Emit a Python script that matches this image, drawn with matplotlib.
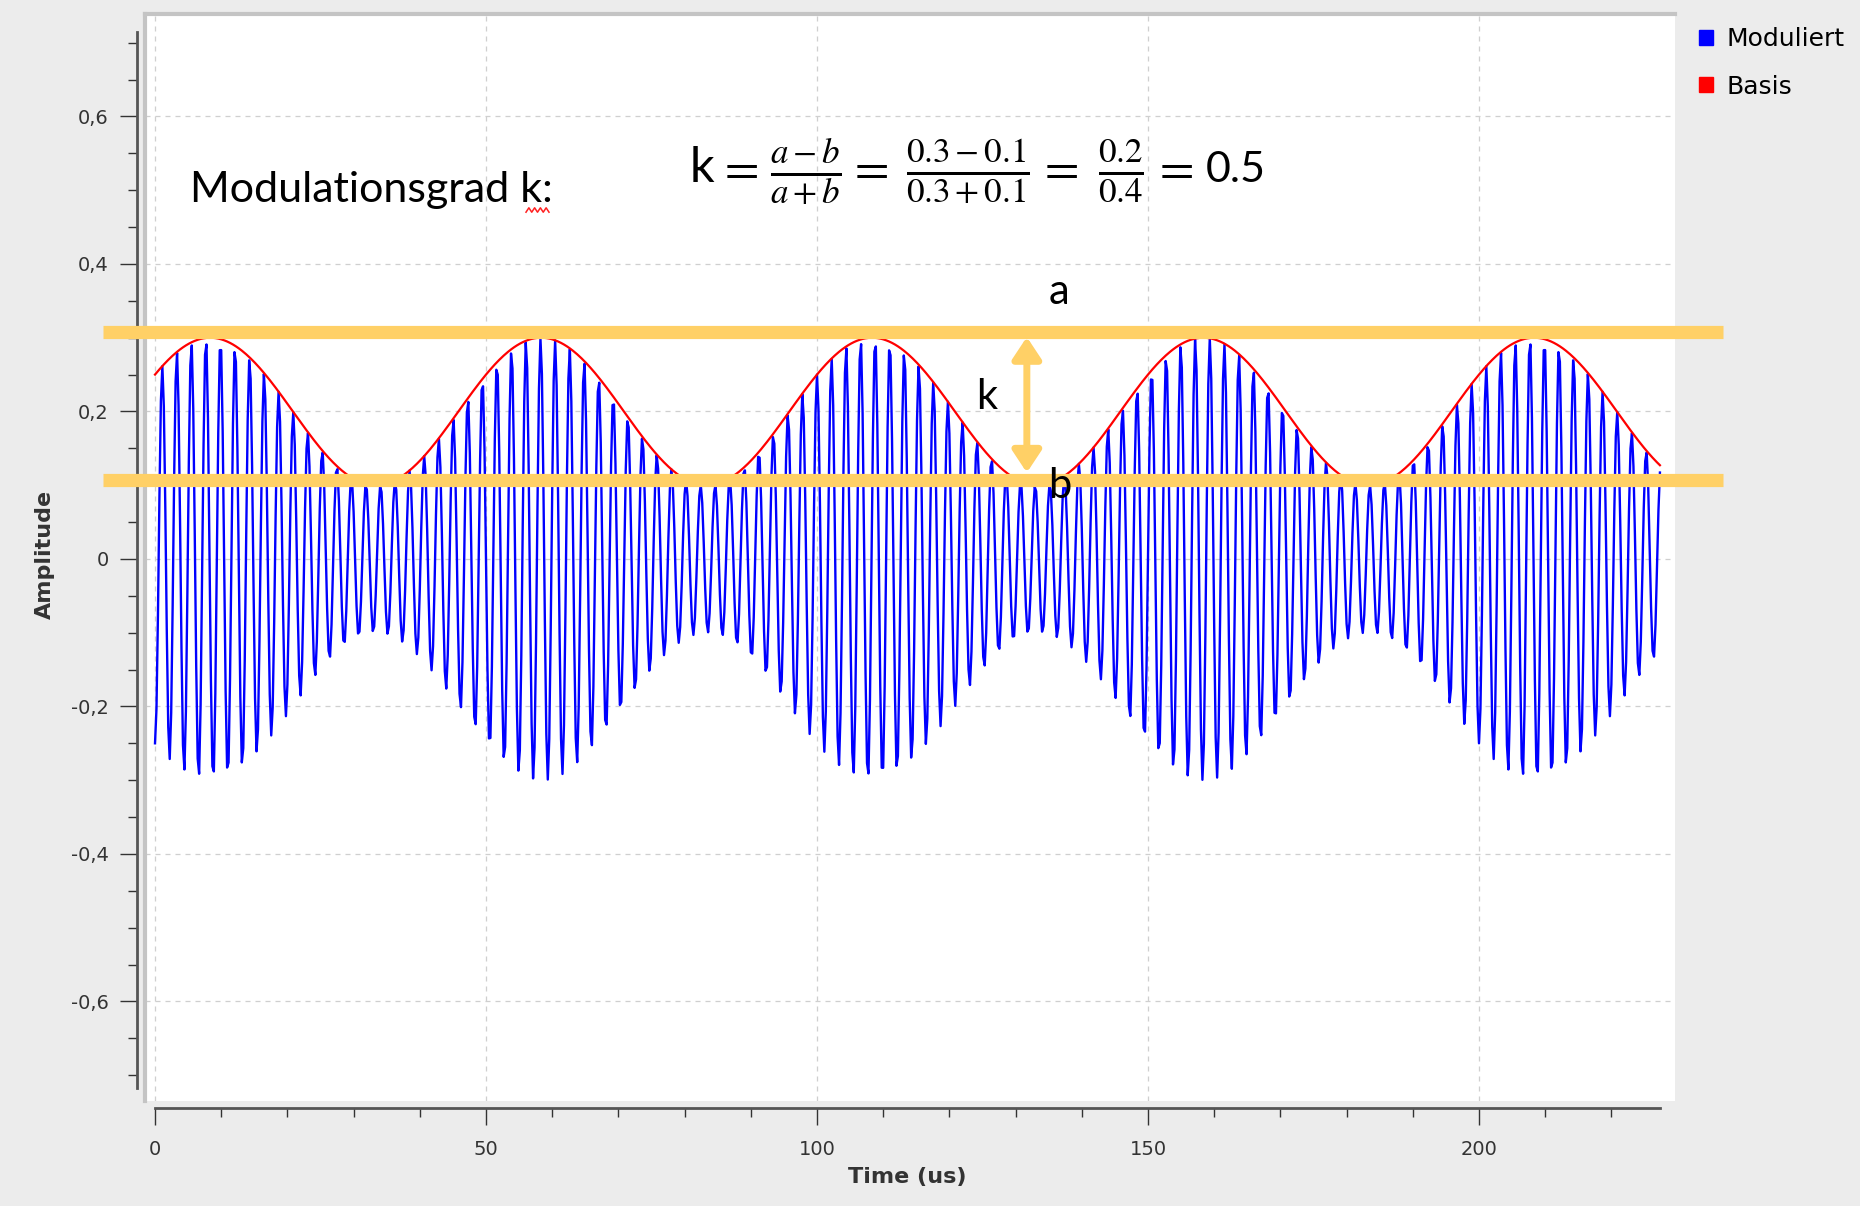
import numpy as np
import matplotlib.pyplot as plt
from matplotlib.patches import Patch
from matplotlib.lines import Line2D
from matplotlib.ticker import MultipleLocator, FuncFormatter

# signal settings
samp_rate = 4.5e6        # 1024 samples cover ~227 us
n_samples = 1024
carrier_freq = 455e3     # ~2.2 us per carrier cycle
mod_freq = 20e3          # envelope repeats every 50 us
env_offset = 0.2         # middle of envelope
env_depth = 0.1          # envelope swing
env_phase = -np.pi / 3   # envelope is 0.25 at t=0 and rising

a_level = 0.3
b_level = 0.1

t = np.arange(n_samples) / samp_rate
basis = env_offset + env_depth * np.cos(2 * np.pi * mod_freq * t + env_phase)
moduliert = -basis * np.cos(2 * np.pi * carrier_freq * t)
t_us = t * 1e6

orange = '#ffd066'
bg = '#ececec'
W, H = 1860.0, 1206.0

plt.rcParams['mathtext.fontset'] = 'stix'

fig = plt.figure(figsize=(18.6, 12.06), dpi=100, facecolor=bg)
ax = fig.add_axes([0.078, 0.0871, 0.8225, 0.9013])
ax.set_facecolor('white')

ax.plot(t_us, moduliert, color='#0000ff', lw=1.7, zorder=3)
ax.plot(t_us, basis, color='#ff0000', lw=1.6, zorder=4)

ax.set_xlim(-1.5, 229.6)
ax.set_ylim(-0.735, 0.739)

# axes outside the canvas, qwt style
for s in ['top', 'right']:
    ax.spines[s].set_visible(False)
ax.spines['left'].set_position(('outward', 6))
ax.spines['bottom'].set_position(('outward', 5))
ax.spines['left'].set_bounds(-0.718, 0.715)
ax.spines['bottom'].set_bounds(0, t_us[-1])
for s in ['left', 'bottom']:
    ax.spines[s].set_color('#555555')
    ax.spines[s].set_linewidth(2)

ax.xaxis.set_major_locator(MultipleLocator(50))
ax.xaxis.set_minor_locator(MultipleLocator(10))
ax.yaxis.set_major_locator(MultipleLocator(0.2))
ax.yaxis.set_minor_locator(MultipleLocator(0.05))
ax.yaxis.set_major_formatter(FuncFormatter(lambda v, p: '0' if abs(v) < 1e-9 else ('%.1f' % v).replace('.', ',')))
ax.tick_params(which='major', length=12, width=1, color='#333333', labelsize=14, labelcolor='#333333')
ax.tick_params(which='minor', length=6.5, width=1, color='#333333')
ax.tick_params(axis='y', pad=8)
ax.tick_params(axis='x', pad=11)
ax.grid(True, which='major', color='#cfcfcf', ls=(0, (4, 4)), lw=0.9)
ax.set_axisbelow(True)

# sunken canvas edge
ax.plot([0, 0], [0, 1], transform=ax.transAxes, color='#c4c4c4', lw=3, clip_on=False)
ax.plot([0, 1], [1, 1], transform=ax.transAxes, color='#c4c4c4', lw=3, clip_on=False)

fig.text(45 / W, 1 - 554 / H, 'Amplitude', rotation=90, ha='center', va='center',
         fontsize=16, fontweight='bold', color='#333333')
fig.text(907 / W, 1 - 1177 / H, 'Time (us)', ha='center', va='center',
         fontsize=16, fontweight='bold', color='#333333')

# a / b levels and arrow
ax.plot([-7.9, 236.9], [0.308, 0.308], color=orange, lw=9.5, clip_on=False, zorder=6, solid_capstyle='butt')
ax.plot([-7.9, 236.9], [0.107, 0.107], color=orange, lw=9.5, clip_on=False, zorder=6, solid_capstyle='butt')
arrow_t = 131.7
ax.annotate('', xy=(arrow_t, 0.117), xytext=(arrow_t, 0.301),
            arrowprops=dict(arrowstyle='<|-|>,head_width=0.43,head_length=0.65', color=orange,
                            lw=5, shrinkA=0, shrinkB=0, mutation_scale=20), zorder=7)

txt_font = ['Lato', 'DejaVu Sans']
ax.text(136.6, 0.362, 'a', fontsize=30, family=txt_font, ha='center', va='center', zorder=8)
ax.text(125.7, 0.220, 'k', fontsize=30, family=txt_font, ha='center', va='center', zorder=8)
ax.text(136.7, 0.099, 'b', fontsize=30, family=txt_font, ha='center', va='center', zorder=8)

fig.text(190 / W, 1 - 190 / H, 'Modulationsgrad k:', fontsize=31, family=txt_font,
         ha='left', va='center')
# spell-check squiggle under the k
sq_x = np.linspace(526, 549, 9)
sq_y = 210 + 2.2 * np.array([1, -1, 1, -1, 1, -1, 1, -1, 1])
fig.add_artist(Line2D(sq_x / W, 1 - sq_y / H, color='#ff2020', lw=1.1, transform=fig.transFigure))

# formula, piece by piece on one baseline
base_y = 1 - 182 / H
fig.text(702 / W, base_y, 'k', fontsize=35, family=txt_font, ha='center', va='baseline')
for xe in [738, 868, 1058, 1173]:
    fig.text(xe / W, base_y, r'$=$', fontsize=36, ha='center', va='baseline')
fig.text(806 / W, base_y, r'$\frac{a-b}{a+b}$', fontsize=36, ha='center', va='baseline')
fig.text(968 / W, base_y, r'$\frac{0.3-0.1}{0.3+0.1}$', fontsize=36, ha='center', va='baseline')
fig.text(1121 / W, base_y, r'$\frac{0.2}{0.4}$', fontsize=36, ha='center', va='baseline')
fig.text(1236 / W, base_y, '0.5', fontsize=31, family=txt_font, ha='center', va='baseline')

handles = [Patch(color='#0000ff'), Patch(color='#ff0000')]
fig.legend(handles, ['Moduliert', 'Basis'], loc='upper left', bbox_to_anchor=(1699 / W, 1 - 27 / H),
           frameon=False, fontsize=18, handlelength=0.55, handleheight=0.55, handletextpad=0.55,
           labelspacing=0.95, borderaxespad=0, borderpad=0)

fig.savefig('out.png', dpi=100, facecolor=bg)
